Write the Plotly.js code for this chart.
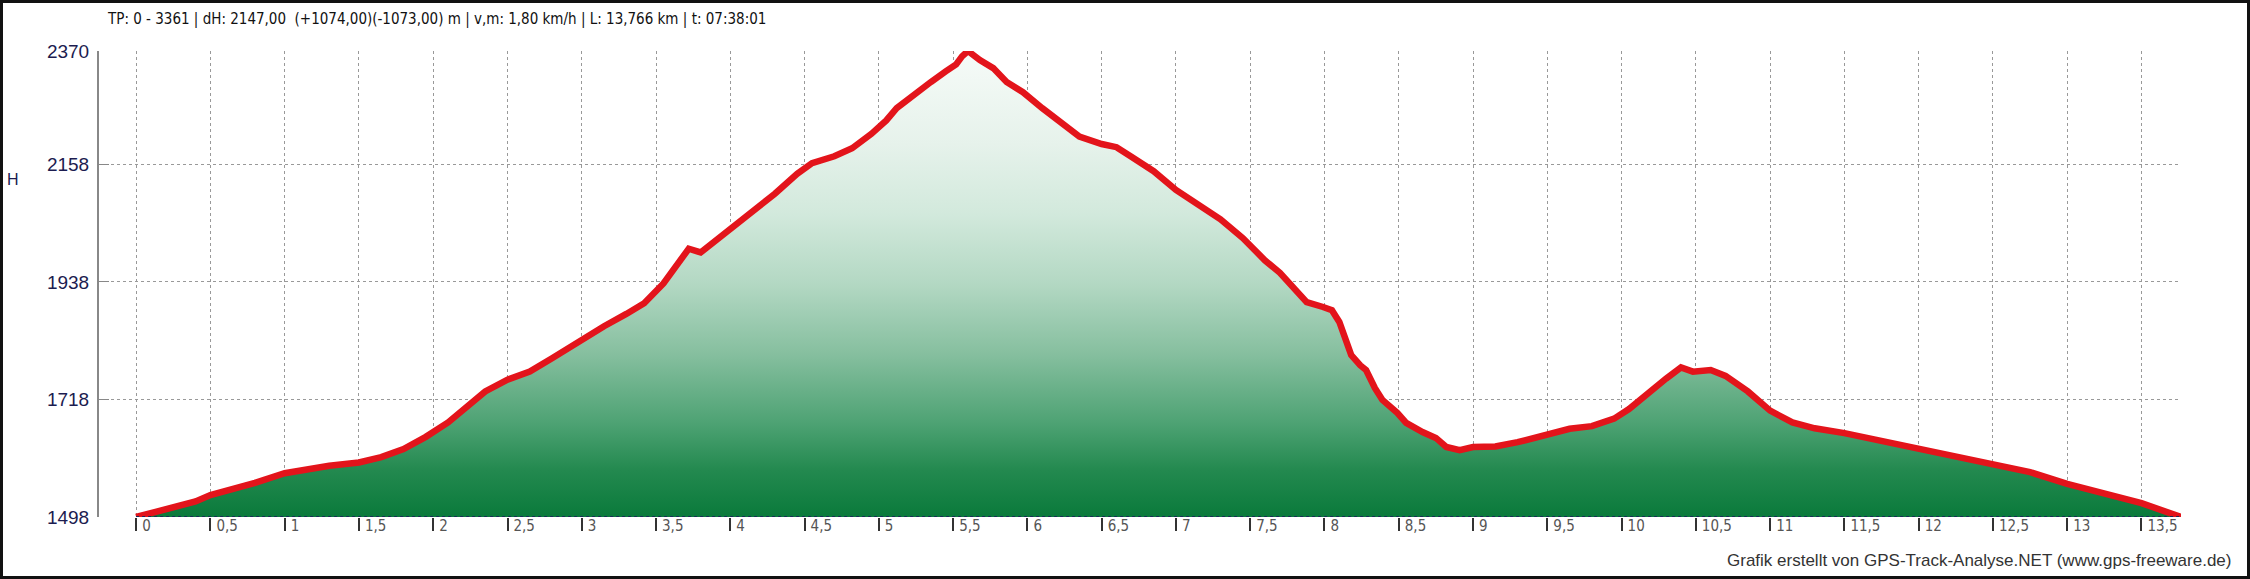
<!DOCTYPE html>
<html>
<head>
<meta charset="utf-8">
<script src="https://cdn.plot.ly/plotly-3.0.1.min.js"></script>
<style>
  html, body { margin: 0; padding: 0; background: #fff; }
  #chart { width: 2250px; height: 579px; }
  #frame { position: absolute; left: 0; top: 0; width: 2250px; height: 579px; box-sizing: border-box; border: 3px solid #111; pointer-events: none; }
</style>
</head>
<body>
<div id="chart"></div>
<div id="frame"></div>
<script>
// Distance along the track (km)
const dist = [0, 0.12, 0.25, 0.4, 0.5, 0.65, 0.8, 1.0, 1.15, 1.3, 1.5, 1.65, 1.8, 1.95, 2.1, 2.25, 2.35, 2.5, 2.65, 2.8,
  3.0, 3.15, 3.3, 3.42, 3.55, 3.65, 3.72, 3.8, 3.9, 4.0, 4.15, 4.3, 4.45, 4.55, 4.7, 4.82, 4.95, 5.05, 5.12, 5.23,
  5.35, 5.45, 5.52, 5.56, 5.60, 5.68, 5.77, 5.86, 5.97, 6.10, 6.22, 6.35, 6.5, 6.6, 6.7, 6.85, 7.0, 7.15, 7.3, 7.45,
  7.6, 7.70, 7.79, 7.88, 7.99, 8.05, 8.10, 8.15, 8.18, 8.24, 8.28, 8.34, 8.39, 8.49, 8.55, 8.66, 8.75, 8.82, 8.91, 9.0,
  9.15, 9.3, 9.5, 9.65, 9.8, 9.95, 10.05, 10.15, 10.3, 10.4, 10.48, 10.6, 10.7, 10.85, 11.0, 11.15, 11.3, 11.5, 11.75, 12.0,
  12.25, 12.5, 12.75, 13.0, 13.25, 13.5, 13.766];
// Elevation (m)
const elev = [1498, 1506, 1514, 1527, 1539, 1550, 1562, 1580, 1588, 1594, 1600, 1610, 1625, 1648, 1675, 1710, 1733, 1755, 1770, 1795,
  1830, 1855, 1878, 1898, 1935, 1975, 2000, 1993, 2015, 2040, 2070, 2103, 2140, 2160, 2173, 2188, 2215, 2240, 2263, 2288,
  2312, 2332, 2345, 2360, 2370, 2353, 2338, 2312, 2293, 2263, 2238, 2210, 2196, 2190, 2172, 2145, 2110, 2083, 2055, 2020,
  1978, 1955, 1928, 1900, 1891, 1885, 1863, 1829, 1801, 1782, 1773, 1739, 1717, 1693, 1674, 1657, 1646, 1629, 1623, 1629,
  1630, 1638, 1652, 1663, 1668, 1682, 1700, 1724, 1757, 1778, 1770, 1773, 1762, 1733, 1697, 1675, 1664, 1655, 1640, 1628,
  1612, 1598, 1582, 1560, 1542, 1524, 1498];

const xTickVals = [0, 0.5, 1, 1.5, 2, 2.5, 3, 3.5, 4, 4.5, 5, 5.5, 6, 6.5, 7, 7.5, 8, 8.5, 9, 9.5, 10, 10.5, 11, 11.5, 12, 12.5, 13, 13.5];
const xTickText = ["0", "0,5", "1", "1,5", "2", "2,5", "3", "3,5", "4", "4,5", "5", "5,5", "6", "6,5", "7", "7,5", "8", "8,5", "9", "9,5", "10", "10,5", "11", "11,5", "12", "12,5", "13", "13,5"];
const yTickVals = [1498, 1718, 1938, 2158, 2370];
const yTickText = ["1498", "1718", "1938", "2158", "2370"];

const titleText = "TP: 0 - 3361 | dH: 2147,00  (+1074,00)(-1073,00) m | v,m: 1,80 km/h | L: 13,766 km | t: 07:38:01";
const axisLabel = "H";
const creditText = "Grafik erstellt von GPS-Track-Analyse.NET (www.gps-freeware.de)";

const narrow = "'Liberation Sans Narrow', 'Arial Narrow', 'DejaVu Sans Condensed', sans-serif";
const regular = "'Liberation Sans', Arial, sans-serif";

const yMin = Math.min(...elev), yMax = Math.max(...elev);

const trace = {
  x: dist, y: elev,
  type: 'scatter', mode: 'lines',
  line: { color: '#e3141b', width: 6.5 },
  fill: 'tozeroy',
  fillgradient: {
    type: 'vertical', start: yMin, stop: yMax,
    colorscale: [[0, '#0a7a3b'], [0.1, '#23894f'], [0.2, '#4da273'], [0.35, '#86bf9f'], [0.5, '#b3d8c3'], [0.65, '#d2e9dc'], [0.8, '#e6f2eb'], [1, '#f6fbf8']]
  },
  hoverinfo: 'skip'
};

const layout = {
  width: 2250, height: 579,
  margin: { l: 99, r: 69, t: 51, b: 62 },
  paper_bgcolor: '#ffffff', plot_bgcolor: '#ffffff',
  showlegend: false,
  title: {
    text: titleText, xref: 'container', yref: 'container',
    x: 108 / 2250, xanchor: 'left', y: 1 - 19 / 579, yanchor: 'middle',
    font: { family: narrow, size: 15, color: '#111' }
  },
  xaxis: {
    range: [-0.25, dist[dist.length - 1]],
    tickmode: 'array', tickvals: xTickVals, ticktext: xTickText,
    ticks: 'outside', ticklen: 13, tickwidth: 2, tickcolor: '#333',
    ticklabelposition: 'outside right', ticklabelstandoff: -5, ticklabelshift: 5,
    tickfont: { family: narrow, size: 15, color: '#555' },
    showgrid: true, gridcolor: '#999', griddash: 'dot', gridwidth: 1,
    showline: false, zeroline: false, fixedrange: true
  },
  yaxis: {
    range: [yMin, yMax],
    tickmode: 'array', tickvals: yTickVals, ticktext: yTickText,
    ticks: 'inside', ticklen: 10, tickwidth: 1, tickcolor: '#888',
    ticklabelstandoff: 4,
    tickfont: { family: regular, size: 19, color: '#1c1c50' },
    showgrid: true, gridcolor: '#999', griddash: 'dot', gridwidth: 1,
    showline: true, linecolor: '#888', linewidth: 2,
    zeroline: false, fixedrange: true
  },
  shapes: [{
    type: 'line', xref: 'x', yref: 'y',
    x0: dist[0], x1: dist[dist.length - 1], y0: yMin, y1: yMin,
    line: { color: '#1a2a5a', width: 2, dash: 'dot' }
  }],
  annotations: [
    { text: axisLabel, xref: 'paper', yref: 'paper', x: (13 - 99) / 2082, y: (517 - 179) / 466,
      xanchor: 'center', yanchor: 'middle', showarrow: false,
      font: { family: regular, size: 16, color: '#1c1c50' } },
    { text: creditText, xref: 'paper', yref: 'paper', x: (2233 - 99) / 2082, y: (517 - 560) / 466,
      xanchor: 'right', yanchor: 'middle', showarrow: false,
      font: { family: regular, size: 17, color: '#333' } }
  ]
};

Plotly.newPlot('chart', [trace], layout, { displayModeBar: false, staticPlot: true });
</script>
</body>
</html>
